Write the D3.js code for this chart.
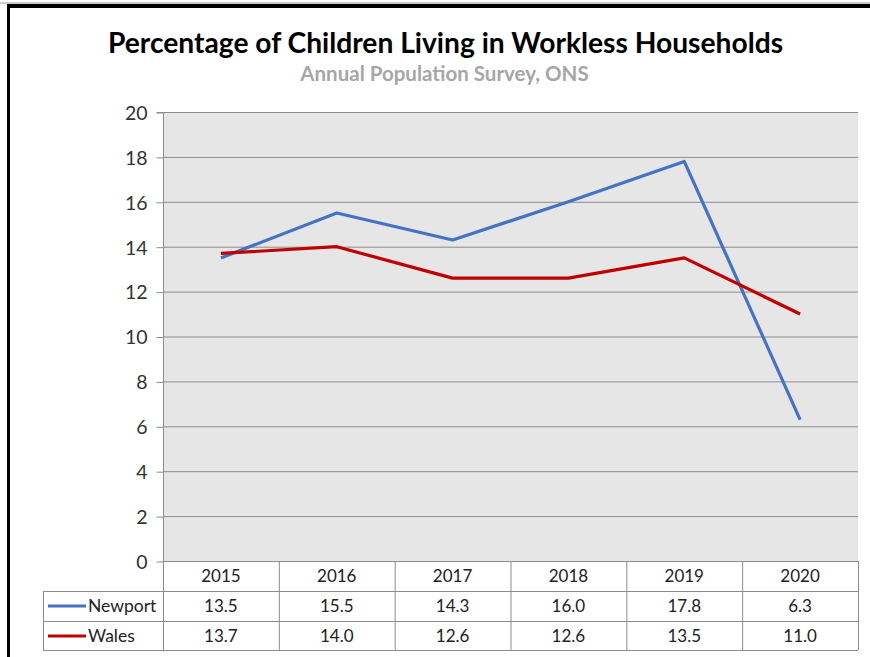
<!DOCTYPE html>
<html><head><meta charset="utf-8">
<script src="https://cdn.jsdelivr.net/npm/d3@7"></script>
<style>body{margin:0;background:#fff}svg{display:block}</style>
</head><body>
<script>
const years = ["2015","2016","2017","2018","2019","2020"];
const newport = [13.5,15.5,14.3,16.0,17.8,6.3];
const wales = [13.7,14.0,12.6,12.6,13.5,11.0];
const yTicks = [0,2,4,6,8,10,12,14,16,18,20];
const seriesNames = ["Newport","Wales"];
const seriesColors = ["#4472c4","#c00000"];

const W=870,H=657;
const svg=d3.select("body").append("svg").attr("width",W).attr("height",H);
const font="Lato, 'Open Sans', sans-serif";

// outer frame lines (top & left)
svg.append("line").attr("x1",0).attr("x2",W).attr("y1",3).attr("y2",3).attr("stroke","#999").attr("stroke-width",1);
svg.append("line").attr("x1",7).attr("x2",W).attr("y1",6).attr("y2",6).attr("stroke","#000").attr("stroke-width",4);
svg.append("line").attr("x1",8.5).attr("x2",8.5).attr("y1",4).attr("y2",H).attr("stroke","#000").attr("stroke-width",3);

const L=163,R=858,T=112,B=561;
const x=d3.scaleBand().domain(years).range([L,R]);
const y=d3.scaleLinear().domain([0,20]).range([B,T]);

svg.append("rect").attr("x",L).attr("y",T).attr("width",R-L).attr("height",B-T).attr("fill","#e6e6e6");

// gridlines
svg.append("g").selectAll("line").data(yTicks.filter(d=>d>0)).join("line")
  .attr("x1",L).attr("x2",R).attr("y1",d=>y(d)+0.5).attr("y2",d=>y(d)+0.5)
  .attr("stroke","#8c8c8c").attr("stroke-width",1);

// y axis
const yAxis=d3.axisLeft(y).tickValues(yTicks).tickSize(7).tickPadding(9).tickFormat(d3.format("d"));
const ga=svg.append("g").attr("transform",`translate(${L+0.5},0.5)`).call(yAxis);
ga.attr("font-size",null).attr("font-family",null);
ga.select(".domain").attr("stroke","#8c8c8c").attr("d",`M-7,${T}H0V${B+90}`);
ga.selectAll(".tick line").attr("stroke","#8c8c8c");
ga.selectAll(".tick text").style("font-family",font).style("font-size","19.5px").attr("fill","#333").attr("dy","0.35em");

// lines
const line=d3.line().x((d,i)=>x(years[i])+x.bandwidth()/2).y(d=>y(d));
[newport,wales].forEach((s,k)=>{
  svg.append("path").datum(s).attr("d",line).attr("fill","none")
    .attr("stroke",seriesColors[k]).attr("stroke-width",3.2).attr("stroke-linejoin","round");
});

// data table
const rowsY=[B,B+30,B+60,B+89];
const tg=svg.append("g").attr("stroke","#8c8c8c").attr("stroke-width",1).attr("fill","none");
tg.append("line").attr("x1",L).attr("x2",R).attr("y1",B+0.5).attr("y2",B+0.5);
rowsY.slice(1).forEach(yy=>tg.append("line").attr("x1",43).attr("x2",R).attr("y1",yy+0.5).attr("y2",yy+0.5));
years.forEach(yr=>tg.append("line").attr("x1",x(yr)+0.5).attr("x2",x(yr)+0.5).attr("y1",B).attr("y2",rowsY[3]));
tg.append("line").attr("x1",R+0.5).attr("x2",R+0.5).attr("y1",B).attr("y2",rowsY[3]);
tg.append("line").attr("x1",43.5).attr("x2",43.5).attr("y1",rowsY[1]).attr("y2",rowsY[3]);

const txt=svg.append("g").attr("font-family",font).attr("font-size",17).attr("fill","#222").attr("text-anchor","middle");
years.forEach(yr=>txt.append("text").attr("x",x(yr)+x.bandwidth()/2).attr("y",B+21).text(yr));
[newport,wales].forEach((s,k)=>{
  s.forEach((v,i)=>txt.append("text").attr("x",x(years[i])+x.bandwidth()/2).attr("y",rowsY[k+1]+21).text(v.toFixed(1)));
  svg.append("line").attr("x1",48).attr("x2",86).attr("y1",rowsY[k+1]+15).attr("y2",rowsY[k+1]+15)
    .attr("stroke",seriesColors[k]).attr("stroke-width",3);
  svg.append("text").attr("x",88).attr("y",rowsY[k+1]+21).attr("font-family",font).attr("font-size",17.5).attr("fill","#222").text(seriesNames[k]);
});

// titles
svg.append("text").attr("x",445.5).attr("y",53).attr("text-anchor","middle").attr("font-family",font)
  .attr("font-weight","bold").attr("font-size",28.2).attr("fill","#000").text("Percentage of Children Living in Workless Households");
svg.append("text").attr("x",444.5).attr("y",81).attr("text-anchor","middle").attr("font-family",font)
  .attr("font-weight","bold").attr("font-size",20.5).attr("fill","#a6a6a6").text("Annual Population Survey, ONS");
</script>
</body></html>
